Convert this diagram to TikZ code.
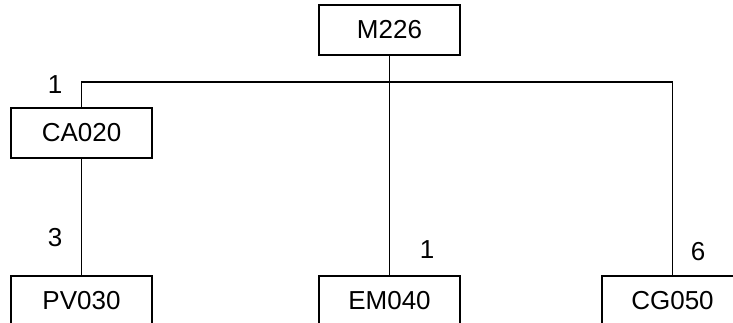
\documentclass[tikz,border=0pt]{standalone}
\usepackage{fontspec}
\setmainfont{Liberation Sans}
\usetikzlibrary{positioning}

\begin{document}
\begin{tikzpicture}[x=1pt, y=1pt, line width=1.1pt,
    part/.style={draw, rectangle, minimum width=141pt, minimum height=50pt, inner sep=0pt,
      font=\fontsize{26}{30}\selectfont},
    qty/.style={font=\fontsize{26}{30}\selectfont, inner sep=0pt}]
    \useasboundingbox (0,0) rectangle (733,323);
    \clip (0,0) rectangle (733,323);

    % Draw the parts as boxes
    \node[part] (m226) at (389.5,293) {M226};
    \node[part] (ca020) at (81.5,190) {CA020};
    \node[part] (pv030) at (81.5,22) {PV030};
    \node[part] (em040) at (389.5,22) {EM040};
    \node[part] (cg050) at (672.5,22) {CG050};

    % Corners of the branch bar
    \coordinate (bl) at (81.5,241);
    \coordinate (bm) at (389.5,241);
    \coordinate (br) at (672.5,241);

    % Draw the tree lines
    \draw (m226.south) -- (bm);
    \draw (ca020.north) -- (bl) -- (br) -- (cg050.north);
    \draw (bm) -- (em040.north);
    \draw (ca020.south) -- (pv030.north);

    % Quantities
    \node[qty] (q1) at (55,238) {1};
    \node[qty] (q2) at (55,85) {3};
    \node[qty] (q3) at (427,73) {1};
    \node[qty] (q4) at (698,71) {6};
\end{tikzpicture}
\end{document}
